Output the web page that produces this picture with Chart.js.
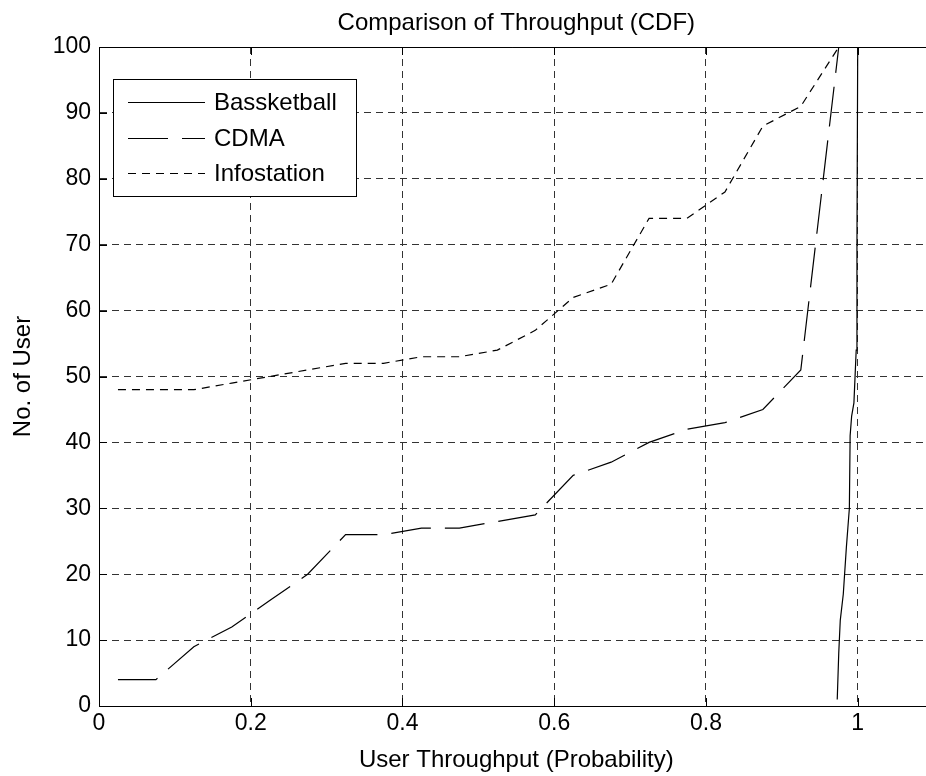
<!DOCTYPE html>
<html>
<head>
<meta charset="utf-8">
<script src="https://cdn.jsdelivr.net/npm/chart.js@4.4.0/dist/chart.umd.min.js"></script>
<style>
html, body { margin: 0; padding: 0; background: #fff; overflow: hidden; }
#wrap { width: 926px; height: 776px; }
</style>
</head>
<body>
<div id="wrap"><canvas id="cdf"></canvas></div>
<script>
var chartTitle = "Comparison of Throughput (CDF)";
var xTicks = [0, 0.2, 0.4, 0.6, 0.8, 1];
var yTicks = [0, 10, 20, 30, 40, 50, 60, 70, 80, 90, 100];
// the original axis runs to 1.1 but the picture is cut at about 1.09
var xMax = 1.09;

// shared probability steps for CDMA and Infostation
var probSteps = [0.025, 0.075, 0.125, 0.175, 0.225, 0.275, 0.325, 0.375, 0.425, 0.475,
                 0.525, 0.575, 0.625, 0.675, 0.725, 0.775, 0.825, 0.875, 0.925, 0.975];
var cdmaUsers = [4, 4, 9, 12, 16, 20, 26, 26, 27, 27, 28, 29, 35, 37, 40, 42, 43, 45, 51, 100];
var infoUsers = [48, 48, 48, 49, 50, 51, 52, 52, 53, 53, 54, 57, 62, 64, 74, 74, 78, 88, 91, 100];

var basketProb = [0.973, 0.975, 0.977, 0.981, 0.985, 0.987, 0.989, 0.990, 0.992, 0.995, 0.998, 0.999, 1.0];
var basketUsers = [1, 8, 13, 17, 24, 27, 30, 41, 44, 46, 54, 70, 100];

var FONT = '"Liberation Sans", Arial, sans-serif';

function toPoints(xs, ys) {
    var pts = [];
    for (var i = 0; i < xs.length; i++) {
        pts.push({ x: xs[i], y: ys[i] });
    }
    return pts;
}

var framePlugin = {
    id: 'frame',
    afterDraw: function (chart) {
        var ctx = chart.ctx;
        var a = chart.chartArea;
        var xs = chart.scales.x, ys = chart.scales.y;
        var L = Math.round(a.left) + 0.5, T = Math.round(a.top) + 0.5, B = Math.round(a.bottom) + 0.5;
        ctx.save();
        ctx.strokeStyle = '#000';
        ctx.lineWidth = 1;
        ctx.setLineDash([]);
        // box: left, top, bottom (right side is off the picture)
        ctx.beginPath();
        ctx.moveTo(a.right, T); ctx.lineTo(L, T); ctx.lineTo(L, B); ctx.lineTo(a.right, B);
        // inward tick marks
        xTicks.forEach(function (v) {
            var px = Math.round(xs.getPixelForValue(v)) + 0.5;
            ctx.moveTo(px, a.bottom); ctx.lineTo(px, a.bottom - 8);
            ctx.moveTo(px, a.top); ctx.lineTo(px, a.top + 8);
        });
        yTicks.forEach(function (v) {
            var py = Math.round(ys.getPixelForValue(v)) + 0.5;
            ctx.moveTo(a.left, py); ctx.lineTo(a.left + 8, py);
        });
        ctx.stroke();

        // title
        ctx.fillStyle = '#000';
        ctx.font = '24px ' + FONT;
        ctx.textAlign = 'center';
        ctx.textBaseline = 'middle';
        ctx.fillText(chartTitle, (xs.getPixelForValue(0) + xs.getPixelForValue(1.1)) / 2, 23);

        // legend box
        var bx = 113.5, by = 79.5, bw = 243, bh = 117;
        ctx.fillStyle = '#fff';
        ctx.fillRect(bx, by, bw, bh);
        ctx.strokeRect(bx, by, bw, bh);
        var rows = [102, 138, 173];
        chart.data.datasets.forEach(function (ds, i) {
            var y = rows[i] + 0.5;
            ctx.beginPath();
            ctx.setLineDash(ds.borderDash || []);
            ctx.lineWidth = ds.borderWidth;
            ctx.moveTo(128, y);
            ctx.lineTo(205, y);
            ctx.stroke();
            ctx.setLineDash([]);
            ctx.fillStyle = '#000';
            ctx.textAlign = 'left';
            ctx.fillText(ds.label, 214, rows[i] + 1);
        });
        ctx.restore();
    }
};

var ctx = document.getElementById('cdf');
var cdfChart = new Chart(ctx, {
    type: 'line',
    data: {
        datasets: [{
            label: 'Bassketball',
            data: toPoints(basketProb, basketUsers),
            borderColor: '#000',
            borderWidth: 1.2,
            borderDash: [],
            pointRadius: 0,
            fill: false
        }, {
            label: 'CDMA',
            data: toPoints(probSteps, cdmaUsers),
            borderColor: '#000',
            borderWidth: 1.2,
            borderDash: [40, 14],
            pointRadius: 0,
            fill: false
        }, {
            label: 'Infostation',
            data: toPoints(probSteps, infoUsers),
            borderColor: '#000',
            borderWidth: 1.2,
            borderDash: [8, 6],
            pointRadius: 0,
            fill: false
        }]
    },
    options: {
        responsive: true,
        maintainAspectRatio: false,
        animation: false,
        layout: { padding: { top: 47, right: 0, left: 0, bottom: 0 } },
        plugins: {
            legend: { display: false },
            title: { display: false },
            tooltip: { enabled: false }
        },
        elements: { line: { tension: 0 } },
        scales: {
            x: {
                type: 'linear',
                min: 0,
                max: xMax,
                afterBuildTicks: function (s) { s.ticks = xTicks.map(function (v) { return { value: v }; }); },
                afterFit: function (s) { s.height = 70; },
                ticks: {
                    autoSkip: false,
                    maxRotation: 0,
                    padding: 4,
                    color: '#000',
                    font: { family: FONT, size: 23 },
                    callback: function (v) { return String(+v.toFixed(2)); }
                },
                grid: { color: '#333', lineWidth: 1, drawTicks: false },
                border: { color: '#000', width: 1, dash: [7, 5] },
                title: {
                    display: false
                }
            },
            y: {
                type: 'linear',
                min: 0,
                max: 100,
                afterBuildTicks: function (s) { s.ticks = yTicks.map(function (v) { return { value: v }; }); },
                afterFit: function (s) { s.width = 99; },
                ticks: {
                    autoSkip: false,
                    padding: 8,
                    color: '#000',
                    font: { family: FONT, size: 23 }
                },
                grid: { color: '#333', lineWidth: 1, drawTicks: false },
                border: { color: '#000', width: 1, dash: [7, 5] },
                title: {
                    display: true,
                    text: 'No. of User',
                    color: '#000',
                    font: { family: FONT, size: 24 },
                    padding: { top: 9, bottom: 0 }
                }
            }
        }
    },
    plugins: [framePlugin, {
        id: 'xTitle',
        afterDraw: function (chart) {
            // x axis title centred on the full 0..1.1 axis, like the original
            var c = chart.ctx, xs = chart.scales.x;
            c.save();
            c.fillStyle = '#000';
            c.font = '24px ' + FONT;
            c.textAlign = 'center';
            c.textBaseline = 'middle';
            c.fillText('User Throughput (Probability)', (xs.getPixelForValue(0) + xs.getPixelForValue(1.1)) / 2, 760);
            c.restore();
        }
    }]
});
</script>
</body>
</html>
